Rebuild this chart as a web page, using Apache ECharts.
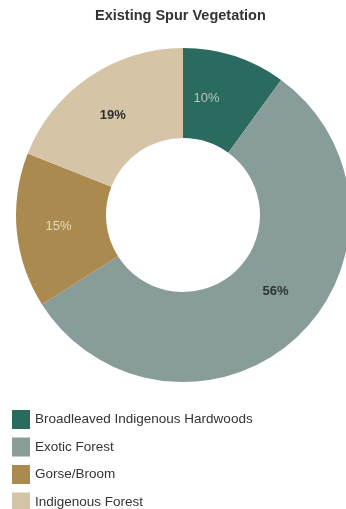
<!DOCTYPE html>
<html><head><meta charset="utf-8">
<script src="https://cdn.jsdelivr.net/npm/echarts@6/dist/echarts.min.js"></script>
<style>html,body{margin:0;padding:0;background:#fff}#c{width:346px;height:509px}</style>
</head><body><div id="c"></div>
<script>
const title = 'Existing Spur Vegetation';
const categories = ['Broadleaved Indigenous Hardwoods', 'Exotic Forest', 'Gorse/Broom', 'Indigenous Forest'];
const values = [10, 56, 15, 19];
const colors = ['#2b6a5e', '#889c99', '#ab8a4f', '#d5c4a5'];
const labelColors = ['#b3c6c1', '#2c3533', '#e8d9b8', '#2e2e2e'];
const labelWeights = ['normal', 'bold', 'normal', 'bold'];
const labelOffsets = [[-15, 2], [7, -15], [0, 0], [0, 4]];

const FF = 'Liberation Sans, Arial, sans-serif';
const chart = echarts.init(document.getElementById('c'), null, {renderer: 'canvas'});
chart.setOption({
  animation: false,
  textStyle: {fontFamily: FF},
  title: {
    text: title, left: 95, top: 8, padding: 0,
    textStyle: {fontSize: 14.5, fontWeight: 'bold', color: '#333', fontFamily: FF}
  },
  legend: {
    orient: 'vertical', left: 12, top: 410, height: 130, padding: 0,
    icon: 'rect', itemWidth: 18, itemHeight: 19, itemGap: 8.5,
    textStyle: {fontSize: 13.5, color: '#333', fontFamily: FF},
    data: categories
  },
  series: [{
    type: 'pie',
    center: [183, 215],
    radius: [77, 167],
    startAngle: 90,
    clockwise: true,
    avoidLabelOverlap: false,
    label: {
      show: true, position: 'inside',
      fontSize: 13,
      formatter: p => p.value + '%'
    },
    labelLine: {show: false},
    emphasis: {disabled: true},
    data: categories.map((c, i) => ({
      name: c, value: values[i],
      itemStyle: {color: colors[i]},
      label: {color: labelColors[i], fontWeight: labelWeights[i], offset: labelOffsets[i]}
    }))
  }]
});
</script></body></html>
